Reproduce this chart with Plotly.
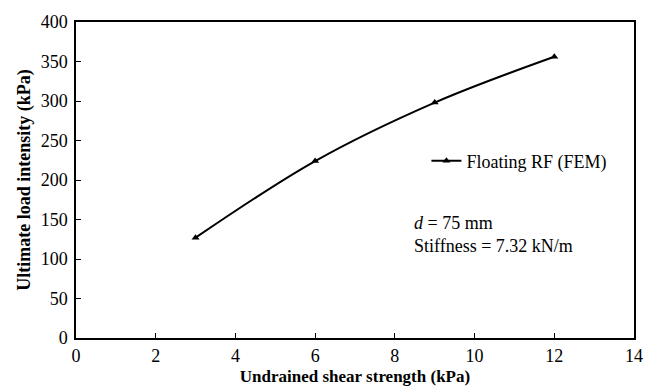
import plotly.graph_objects as go

su = [3, 6, 9, 12]
q_ult = [127, 224, 298, 356]
x_ticks = list(range(0, 15, 2))
y_ticks = list(range(0, 401, 50))

font = "Liberation Serif"

fig = go.Figure()
fig.add_trace(go.Scatter(
    x=su, y=q_ult, mode="lines+markers", name="Floating RF (FEM)",
    line=dict(color="black", width=2, shape="spline"),
    marker=dict(symbol="triangle-up", size=7, color="black"),
))

fig.update_layout(
    width=653, height=388,
    margin=dict(l=76, r=19, t=22, b=50),
    paper_bgcolor="white", plot_bgcolor="white",
    font=dict(family=font, size=18, color="black"),
    showlegend=True,
    legend=dict(x=0.628, y=0.56, xanchor="left", yanchor="middle",
                bgcolor="rgba(0,0,0,0)", font=dict(family=font, size=18),
                itemwidth=30),
    xaxis=dict(range=[0, 14], tickvals=x_ticks, ticks="inside", ticklen=5,
               tickcolor="black", showline=True, linecolor="black", linewidth=1.5,
               mirror=True, showgrid=False, zeroline=False, automargin=False,
               ticklabelstandoff=1,
               tickfont=dict(family=font, size=18),
               title=dict(text="<b>Undrained shear strength (kPa)</b>", standoff=5,
                          font=dict(family=font, size=17))),
    yaxis=dict(range=[0, 400], tickvals=y_ticks, ticks="inside", ticklen=5,
               tickcolor="black", showline=True, linecolor="black", linewidth=1.5,
               mirror=True, showgrid=False, zeroline=False, automargin=False,
               ticklabelstandoff=3,
               tickfont=dict(family=font, size=18),
               title=dict(text="<b>Ultimate load intensity (kPa)</b>", standoff=5,
                          font=dict(family=font, size=18))),
    annotations=[dict(
        text="<i>d</i> = 75 mm<br>Stiffness = 7.32 kN/m",
        xref="paper", yref="paper", x=0.603, y=0.326, xanchor="left", yanchor="middle",
        align="left", showarrow=False, font=dict(family=font, size=18))],
)

fig.write_html("out.html")
